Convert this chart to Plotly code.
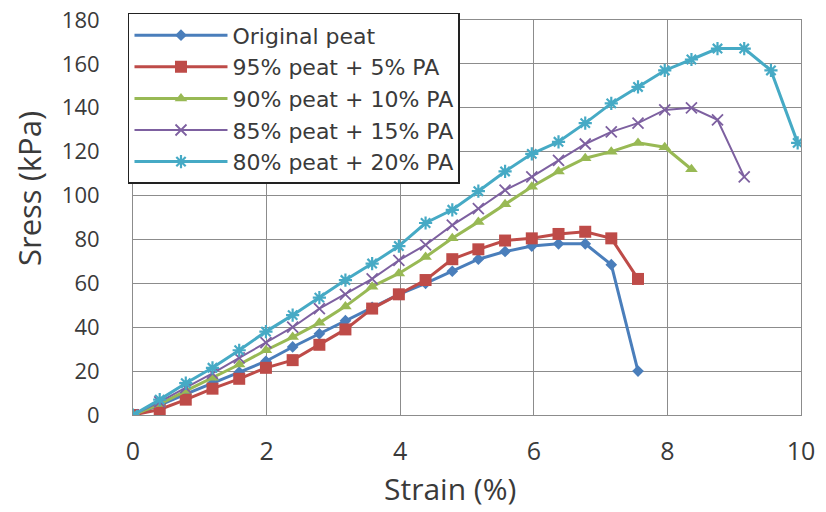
import plotly.graph_objects as go

strain_pct = [0, 0.4, 0.79, 1.19, 1.59, 1.99, 2.39, 2.79, 3.18, 3.58, 3.98, 4.38, 4.78,
              5.17, 5.57, 5.97, 6.37, 6.77, 7.16, 7.56, 7.96, 8.36, 8.75, 9.15, 9.55, 9.95]

original_peat = [0, 4.5, 9.5, 14.5, 19.5, 24.5, 31, 37, 43, 49, 55, 60, 65.5, 71, 74.5, 77,
                 78, 78, 68.5, 20]
peat95_pa5 = [0, 2.5, 7, 12, 16.5, 21.5, 25, 32, 39, 48.5, 55, 61.5, 71, 75.5, 79.5, 80.5,
              82.5, 83.5, 80.5, 62]
peat90_pa10 = [0, 5, 11, 17, 23, 29.5, 35.5, 42, 49.5, 58.5, 64.5, 72, 80.5, 88, 96, 104,
               111, 117, 120, 124, 122, 112]
peat85_pa15 = [0, 6, 12.5, 19, 26, 33, 40, 48.5, 55, 62, 70.5, 77.5, 86.5, 94, 102.5, 108.5,
               116, 123.5, 129, 133, 139, 140, 134.5, 108.5]
peat80_pa20 = [0, 7, 14.5, 21.5, 29.5, 38, 45.5, 53.5, 61.5, 69, 77, 87.5, 93.5, 102, 111,
               119, 124.5, 133, 142, 149.5, 157, 162, 167, 167, 157, 124]

series_names = ["Original peat", "95% peat + 5% PA", "90% peat + 10% PA",
                "85% peat + 15% PA", "80% peat + 20% PA"]
series_values = [original_peat, peat95_pa5, peat90_pa10, peat85_pa15, peat80_pa20]

x_ticks = [0, 2, 4, 6, 8, 10]
y_ticks = [0, 20, 40, 60, 80, 100, 120, 140, 160, 180]
x_title = "Strain (%)"
y_title = "Sress (kPa)"

styles = [
    dict(color="#4A7EBB", width=3, symbol="diamond", size=9, mlw=0),
    dict(color="#BE4B48", width=3, symbol="square", size=12, mlw=0),
    dict(color="#98B954", width=3, symbol="triangle-up", size=11, mlw=0),
    dict(color="#7D60A0", width=2, symbol="x-thin-open", size=11, mlw=1.8),
    dict(color="#46AAC5", width=3, symbol="asterisk-open", size=11, mlw=2.2),
]

fig = go.Figure()
for name, vals, st in zip(series_names, series_values, styles):
    fig.add_trace(go.Scatter(
        x=strain_pct[:len(vals)], y=vals, name=name, mode="lines+markers",
        line=dict(color=st["color"], width=st["width"]),
        marker=dict(symbol=st["symbol"], size=st["size"], color=st["color"],
                    line=dict(color=st["color"], width=st["mlw"])),
    ))

txt = "#3a3a3a"
fig.update_layout(
    width=826, height=512,
    margin=dict(l=133, r=25, t=20, b=97, autoexpand=False),
    paper_bgcolor="white", plot_bgcolor="white",
    font=dict(family="Open Sans, sans-serif", color=txt),
    legend=dict(
        x=-0.0075, y=1.018, xanchor="left", yanchor="top",
        bgcolor="white", bordercolor="#222222", borderwidth=1.5,
        font=dict(family="DejaVu Sans, sans-serif", size=22, color=txt),
        tracegroupgap=0, itemwidth=93,
    ),
    xaxis=dict(
        range=[0, 10], tickvals=x_ticks, ticktext=[str(v) for v in x_ticks],
        showgrid=True, gridcolor="#8c8c8c", gridwidth=1,
        showline=True, linecolor="#8c8c8c", linewidth=1, mirror=True,
        zeroline=False, ticks="", ticklabelstandoff=14, automargin=False,
        ticklabeloverflow="allow",
        tickfont=dict(family="Open Sans, sans-serif", size=25, color=txt),
    ),
    yaxis=dict(
        range=[0, 180], tickvals=y_ticks, ticktext=[str(v) for v in y_ticks],
        showgrid=True, gridcolor="#8c8c8c", gridwidth=1,
        showline=True, linecolor="#8c8c8c", linewidth=1, mirror=True,
        zeroline=False, ticks="", ticklabelstandoff=28, automargin=False,
        ticklabeloverflow="allow",
        tickfont=dict(family="Open Sans, sans-serif", size=22, color=txt),
    ),
    annotations=[
        dict(text=x_title, xref="paper", yref="paper", x=0.4746, y=-0.187,
             xanchor="center", yanchor="middle", showarrow=False,
             font=dict(family="Open Sans, sans-serif", size=30, color=txt)),
        dict(text=y_title, xref="paper", yref="paper", x=-0.1557, y=0.5747,
             xanchor="center", yanchor="middle", showarrow=False, textangle=-90,
             font=dict(family="Open Sans, sans-serif", size=31, color=txt)),
    ],
)

fig.write_html("out.html", config={"displayModeBar": False},
               post_script="document.body.style.margin='0';")
